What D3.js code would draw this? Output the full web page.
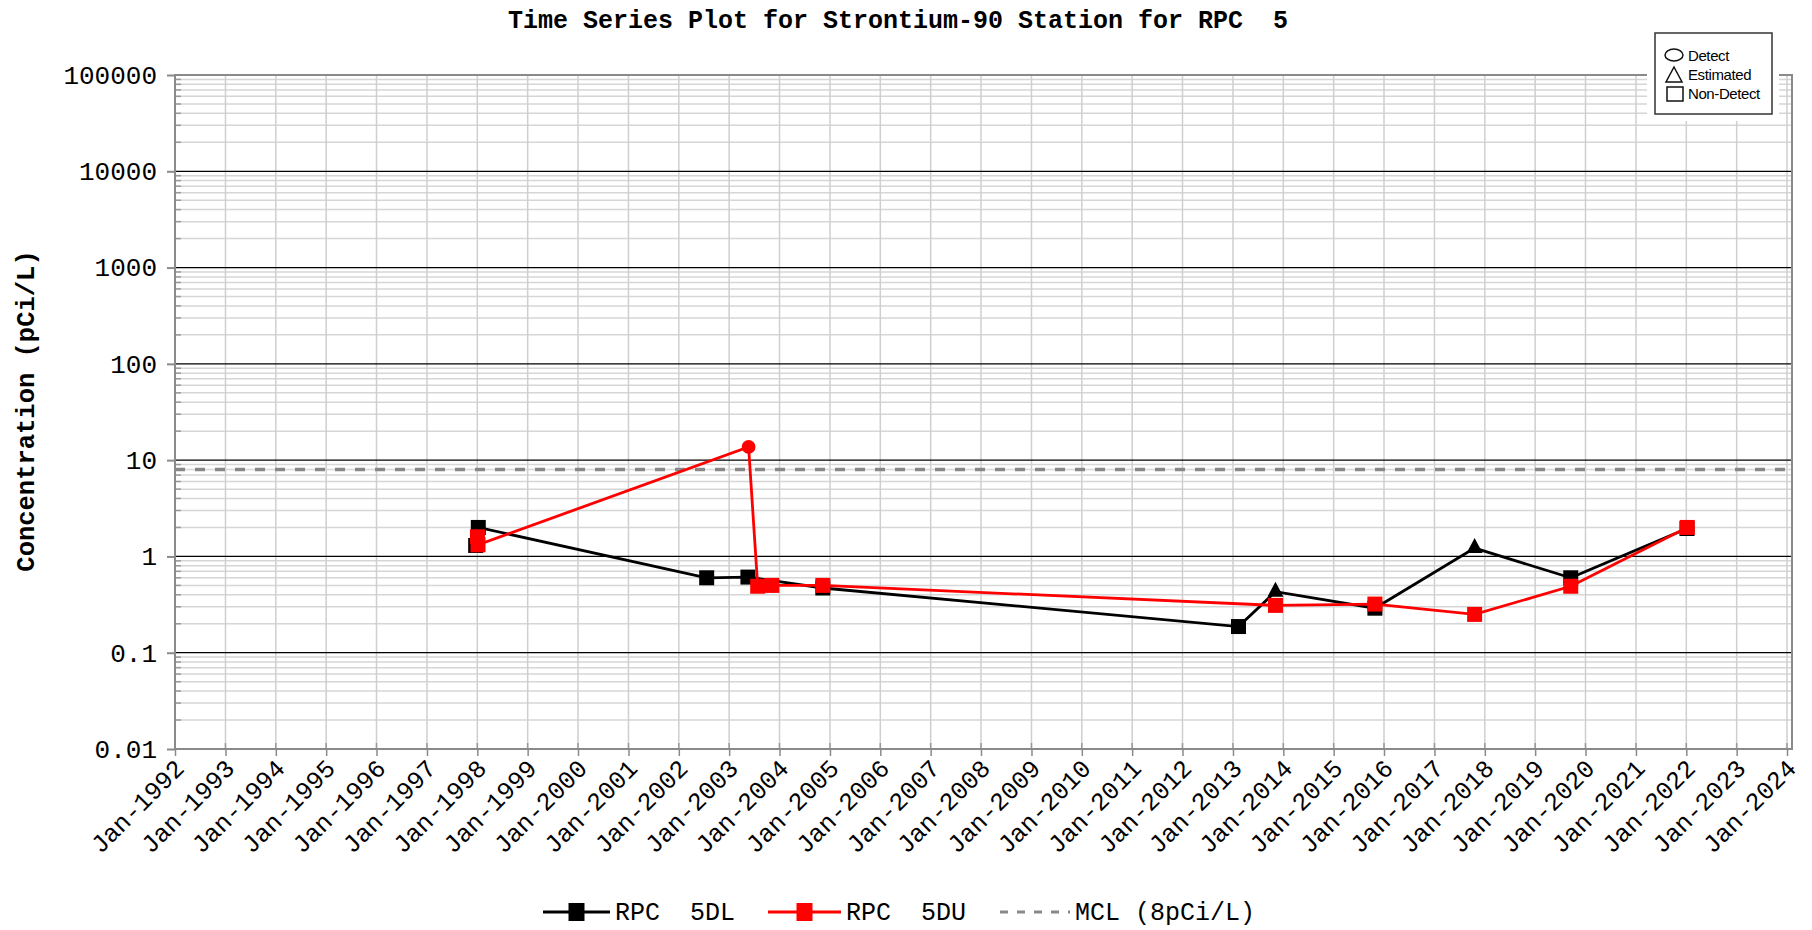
<!DOCTYPE html>
<html>
<head>
<meta charset="utf-8">
<script src="https://cdn.jsdelivr.net/npm/d3@7"></script>
<style>
	body { margin: 0; background: #fff; }
	text { font-family: "Liberation Mono", "DejaVu Sans Mono", monospace; }
	text.kl { font-family: "Liberation Sans", Arial, sans-serif; }
</style>
</head>
<body>
<svg id="chart"></svg>
<script>
// RPC 5DL samples (date, pCi/L, qualifier)
let dlDates = ['1997-12-20', '1998-01-08', '2002-07-22', '2003-05-17', '2004-11-10', '2013-02-10',
	'2013-11-05', '2015-10-27', '2017-10-19', '2019-09-16', '2022-01-06'];
let dlValues = [1.3, 2.0, 0.60, 0.61, 0.47, 0.187, 0.43, 0.29, 1.22, 0.60, 1.95];
let dlFlags = ['ND', 'ND', 'ND', 'ND', 'ND', 'ND', 'E', 'ND', 'E', 'ND', 'ND'];

// RPC 5DU samples
let duDates = ['1998-01-02', '1998-01-06', '2003-05-22', '2003-07-27', '2003-11-06', '2004-11-10',
	'2013-11-05', '2015-10-27', '2017-10-19', '2019-09-16', '2022-01-08'];
let duValues = [1.6, 1.32, 13.7, 0.49, 0.50, 0.50, 0.31, 0.32, 0.25, 0.49, 2.0];
let duFlags = ['ND', 'ND', 'D', 'ND', 'ND', 'ND', 'ND', 'ND', 'ND', 'ND', 'ND'];

let mcl = 8;
let decades = [0.01, 0.1, 1, 10, 100, 1000, 10000, 100000];
let yearTicks = d3.range(1992, 2025);

let w = 1812, h = 930;
let leftX = 175, rightX = 1792, topY = 75, bottomY = 749;

let parse = d3.timeParse('%Y-%m-%d');

function toRows(dates, values, flags) {
	return dates.map((d, i) => ({ date: parse(d), value: values[i], flag: flags[i] }));
}

let chart = d3.select('#chart').attr('width', w).attr('height', h);

let xScale = d3.scaleTime()
	.domain([new Date(1992, 0, 1), new Date(2024, 0, 1)])
	.range([leftX, 1787]);

let yScale = d3.scaleLog()
	.domain([0.01, 100000])
	.range([bottomY, topY]);

// minor values 2..9 per decade
let minors = [];
decades.slice(0, -1).forEach(d => { for (let k = 2; k <= 9; k++) minors.push(d * k); });

// GRID
chart.append('g')
	.selectAll('line')
	.data(minors)
	.join('line')
	.attr('x1', leftX).attr('x2', rightX)
	.attr('y1', d => yScale(d)).attr('y2', d => yScale(d))
	.attr('stroke', '#d6d6d6').attr('stroke-width', 1.5);

chart.append('g')
	.selectAll('line')
	.data(yearTicks)
	.join('line')
	.attr('x1', d => xScale(new Date(d, 0, 1))).attr('x2', d => xScale(new Date(d, 0, 1)))
	.attr('y1', topY).attr('y2', bottomY)
	.attr('stroke', '#cfcfcf').attr('stroke-width', 1.5);

chart.append('g')
	.selectAll('line')
	.data(decades.slice(1, -1))
	.join('line')
	.attr('x1', leftX).attr('x2', rightX)
	.attr('y1', d => yScale(d)).attr('y2', d => yScale(d))
	.attr('stroke', '#000').attr('stroke-width', 1.2);

// short inner ticks
chart.append('g')
	.selectAll('line')
	.data(minors)
	.join('line')
	.attr('x1', leftX).attr('x2', leftX + 6)
	.attr('y1', d => yScale(d)).attr('y2', d => yScale(d))
	.attr('stroke', '#999').attr('stroke-width', 1.5);

chart.append('g')
	.selectAll('line')
	.data(yearTicks)
	.join('line')
	.attr('x1', d => xScale(new Date(d, 0, 1))).attr('x2', d => xScale(new Date(d, 0, 1)))
	.attr('y1', bottomY - 6).attr('y2', bottomY)
	.attr('stroke', '#999').attr('stroke-width', 1.5);

// plot border
chart.append('rect')
	.attr('x', leftX).attr('y', topY)
	.attr('width', rightX - leftX).attr('height', bottomY - topY)
	.attr('fill', 'none').attr('stroke', '#8a8a8a').attr('stroke-width', 2);

// AXES
let yAxis = d3.axisLeft(yScale)
	.tickValues(decades)
	.tickFormat(d => d >= 1 ? d3.format('d')(d) : String(d))
	.tickSize(8).tickPadding(10);

let yAxisGroup = chart.append('g')
	.attr('transform', `translate(${leftX},0)`)
	.call(yAxis);
yAxisGroup.select('.domain').remove();
yAxisGroup.selectAll('line').attr('stroke', '#8a8a8a').attr('stroke-width', 2);
yAxisGroup.selectAll('text')
	.attr('font-size', 26).attr('fill', '#000');

let xAxis = d3.axisBottom(xScale)
	.tickValues(yearTicks.map(y => new Date(y, 0, 1)))
	.tickFormat(d3.timeFormat('Jan-%Y'))
	.tickSize(7);

let xAxisGroup = chart.append('g')
	.attr('transform', `translate(0,${bottomY})`)
	.call(xAxis);
xAxisGroup.select('.domain').remove();
xAxisGroup.selectAll('line').attr('stroke', '#8a8a8a').attr('stroke-width', 1.5);
xAxisGroup.selectAll('text')
	.attr('font-size', 25).attr('fill', '#000')
	.attr('text-anchor', 'end')
	.attr('dy', null)
	.attr('y', null)
	.attr('transform', 'translate(10,21) rotate(-45)');

// MCL line
chart.append('line')
	.attr('x1', leftX).attr('x2', rightX)
	.attr('y1', yScale(mcl)).attr('y2', yScale(mcl))
	.attr('stroke', '#888').attr('stroke-width', 3.5)
	.attr('stroke-dasharray', '10,10');

// SERIES
let lineGen = d3.line()
	.x(d => xScale(d.date))
	.y(d => yScale(d.value));

function drawSeries(rows, color) {
	let g = chart.append('g');
	g.append('path')
		.datum(rows)
		.attr('d', lineGen)
		.attr('fill', 'none')
		.attr('stroke', color)
		.attr('stroke-width', 2.8);

	g.selectAll('.m')
		.data(rows)
		.join('path')
		.attr('class', 'm')
		.attr('transform', d => `translate(${xScale(d.date)},${yScale(d.value)})`)
		.attr('d', d => {
			if (d.flag === 'D') return d3.symbol(d3.symbolCircle, 150)();
			if (d.flag === 'E') return 'M0,-10L8,5L-8,5Z';
			return 'M-7.5,-7.5H7.5V7.5H-7.5Z';
		})
		.attr('fill', color);
}

drawSeries(toRows(dlDates, dlValues, dlFlags), '#000');
drawSeries(toRows(duDates, duValues, duFlags), '#f00');

// TITLE + LABELS
chart.append('text')
	.attr('x', 898).attr('y', 28)
	.attr('text-anchor', 'middle')
	.attr('font-weight', 'bold')
	.attr('font-size', 25)
	.attr('xml:space', 'preserve')
	.style('white-space', 'pre')
	.text('Time Series Plot for Strontium-90 Station for RPC  5');

chart.append('text')
	.attr('transform', 'rotate(-90)')
	.attr('x', -411).attr('y', 34)
	.attr('text-anchor', 'middle')
	.attr('font-weight', 'bold')
	.attr('font-size', 25.5)
	.text('Concentration (pCi/L)');

// SYMBOL KEY (top right)
let key = chart.append('g');
key.append('rect')
	.attr('x', 1647).attr('y', 28).attr('width', 132).attr('height', 93)
	.attr('fill', '#fff');
key.append('rect')
	.attr('x', 1655).attr('y', 33).attr('width', 117).attr('height', 81)
	.attr('fill', '#fff').attr('stroke', '#333').attr('stroke-width', 1.5);
key.append('ellipse')
	.attr('cx', 1674).attr('cy', 55).attr('rx', 9).attr('ry', 6)
	.attr('fill', 'none').attr('stroke', '#111').attr('stroke-width', 1.5);
key.append('path')
	.attr('d', 'M1674,67L1682,82L1666,82Z')
	.attr('fill', 'none').attr('stroke', '#111').attr('stroke-width', 1.5);
key.append('rect')
	.attr('x', 1667).attr('y', 87).attr('width', 16).attr('height', 14)
	.attr('fill', 'none').attr('stroke', '#111').attr('stroke-width', 1.5);

let keyLabels = ['Detect', 'Estimated', 'Non-Detect'];
key.selectAll('.kl')
	.data(keyLabels)
	.join('text')
	.attr('class', 'kl')
	.attr('x', 1688)
	.attr('y', (d, i) => 61 + i * 19)
	.attr('font-size', 15)
	.attr('letter-spacing', -0.4)
	.text(d => d);

// BOTTOM LEGEND
let legendY = 912;
let legendItems = [
	{ label: 'RPC  5DL', color: '#000', x0: 543, x1: 610, marker: true, dash: null },
	{ label: 'RPC  5DU', color: '#f00', x0: 768, x1: 841, marker: true, dash: null },
	{ label: 'MCL (8pCi/L)', color: '#888', x0: 1000, x1: 1070, marker: false, dash: '8,9' }
];

legendItems.forEach(it => {
	chart.append('line')
		.attr('x1', it.x0).attr('x2', it.x1)
		.attr('y1', legendY).attr('y2', legendY)
		.attr('stroke', it.color).attr('stroke-width', 3)
		.attr('stroke-dasharray', it.dash);
	if (it.marker) {
		let cx = (it.x0 + it.x1) / 2;
		chart.append('rect')
			.attr('x', cx - 8).attr('y', legendY - 9)
			.attr('width', 16).attr('height', 18)
			.attr('fill', it.color);
	}
	chart.append('text')
		.attr('x', it.x1 + 5).attr('y', legendY + 8)
		.attr('font-size', 25)
		.attr('xml:space', 'preserve')
		.style('white-space', 'pre')
		.text(it.label);
});
</script>
</body>
</html>
